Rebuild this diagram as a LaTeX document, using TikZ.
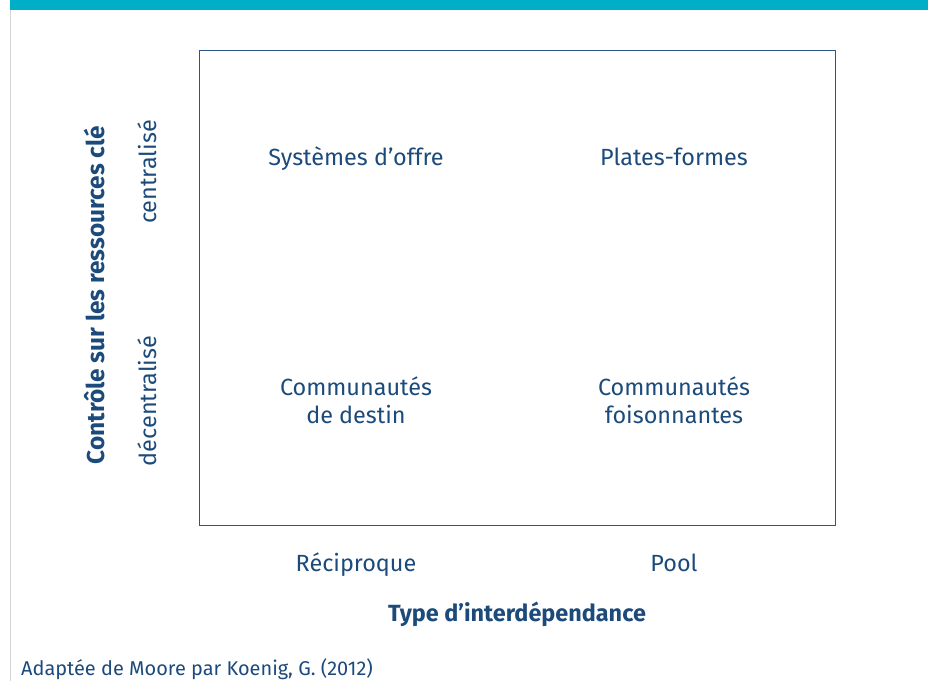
\documentclass[tikz,border=0pt]{standalone}
\usepackage{fontspec}
\setmainfont{Fira Sans}
\definecolor{barteal}{HTML}{00AEC7}
\definecolor{inkblue}{HTML}{1B4A7B}
\definecolor{frameblue}{HTML}{2A5683}
\definecolor{railgrey}{HTML}{D4D4D4}
\begin{document}
\begin{tikzpicture}[x=1bp,y=-1bp,
  lbl/.style={text=inkblue,font=\fontsize{23.5}{28}\selectfont,align=center,inner sep=0pt,anchor=base},
  axis/.style={text=inkblue,font=\fontsize{23.5}{28}\selectfont\bfseries,inner sep=0pt,anchor=base},
  srcnote/.style={text=inkblue,font=\fontsize{20}{24}\selectfont,inner sep=0pt,anchor=base west}]
\useasboundingbox (0,0) rectangle (928,681);
% header band and side rail
\fill[barteal] (10,0) rectangle (928,10.5);
\draw[railgrey,line width=1.2bp] (10.5,10.5) -- (10.5,681);
% matrix frame
\draw[frameblue,line width=1.6bp] (199.5,50.5) rectangle (835.5,525.5);
% quadrant labels
\node[lbl] (q1) at (356,166) {Systèmes d’offre};
\node[lbl] (q2) at (674,166) {Plates-formes};
\node[lbl] (q3) at (356,423) {Communautés\\de destin};
\node[lbl] (q4) at (674,423) {Communautés\\foisonnantes};
% horizontal axis
\node[lbl] (h1) at (356,571.5) {Réciproque};
\node[lbl] (h2) at (674,571.5) {Pool};
\node[axis] (hx) at (517,621) {Type d’interdépendance};
% vertical axis
\node[axis,anchor=center,rotate=90,font=\fontsize{24.5}{28}\selectfont\bfseries] (vx) at (95,295) {Contrôle sur les ressources clé};
\node[lbl,anchor=center,rotate=90] (v1) at (147,172) {centralisé};
\node[lbl,anchor=center,rotate=90] (v2) at (147,401) {décentralisé};
% source line
\node[srcnote] (src) at (21,675) {Adaptée de Moore par Koenig, G. (2012)};
\end{tikzpicture}
\end{document}
